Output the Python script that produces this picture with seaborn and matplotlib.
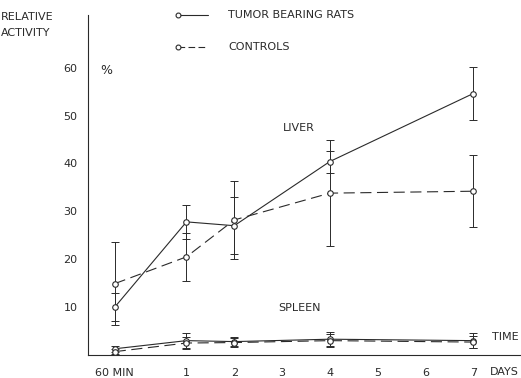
import matplotlib
matplotlib.use("Agg")
import matplotlib.pyplot as plt
import seaborn as sns
import pandas as pd
from matplotlib.lines import Line2D

sns.set_style("white")
plt.rcParams['font.family'] = ['DejaVu Sans']

# ---- data ----
time_pos = [-0.5, 1, 2, 4, 7]
tick_pos = [-0.5, 1, 2, 3, 4, 5, 6, 7]
tick_labels = ['60 MIN', '1', '2', '3', '4', '5', '6', '7']
y_ticks = [10, 20, 30, 40, 50, 60]

liver_tumor = [10.0, 27.8, 27.0, 40.4, 54.6]
liver_tumor_err = [3.0, 3.5, 6.0, 2.3, 5.5]
liver_ctrl = [14.9, 20.5, 28.2, 33.8, 34.2]
liver_ctrl_err = [8.7, 5.0, 8.2, 11.0, 7.5]

spleen_tumor = [1.3, 3.0, 2.8, 3.3, 3.0]
spleen_tumor_err = [0.6, 1.5, 1.0, 1.5, 1.5]
spleen_ctrl = [0.7, 2.5, 2.6, 3.0, 2.7]
spleen_ctrl_err = [0.5, 1.2, 1.0, 1.3, 1.2]

ink = '#2a2a2a'

fig = plt.figure(figsize=(5.21, 3.78), dpi=100)
ax = fig.add_axes([88/521, 23/378, 1 - 88/521, (355-15)/378])

dash = (0, (10, 5))
series = [
    ('tumor', 'liver', liver_tumor, liver_tumor_err, '-'),
    ('ctrl', 'liver', liver_ctrl, liver_ctrl_err, dash),
    ('tumor', 'spleen', spleen_tumor, spleen_tumor_err, '-'),
    ('ctrl', 'spleen', spleen_ctrl, spleen_ctrl_err, dash),
]
for grp, organ, vals, errs, ls in series:
    df = pd.DataFrame({'t': time_pos, 'v': vals})
    sns.lineplot(data=df, x='t', y='v', ax=ax, color=ink, lw=0.8,
                 linestyle=ls, marker='o', markersize=4,
                 markerfacecolor='white', markeredgecolor=ink,
                 markeredgewidth=0.8, legend=False, zorder=3, clip_on=False)
    ax.errorbar(time_pos, vals, yerr=errs, fmt='none', ecolor=ink,
                elinewidth=0.7, capsize=3, capthick=0.7, zorder=2, clip_on=False)

ax.set_xlim(-1.06, 8.0)
ax.set_ylim(0, 71)
ax.set_xlabel('')
ax.set_ylabel('')
for s in ['top', 'right']:
    ax.spines[s].set_visible(False)
for s in ['left', 'bottom']:
    ax.spines[s].set_color(ink)
    ax.spines[s].set_linewidth(0.8)

ax.set_xticks(tick_pos)
ax.set_xticklabels(tick_labels)
ax.set_yticks(y_ticks)
ax.set_yticklabels([str(v) for v in y_ticks])
ax.tick_params(axis='both', direction='inout', length=7, width=0.7,
               color=ink, labelsize=8, labelcolor=ink)
ax.tick_params(axis='x', pad=6)
ax.tick_params(axis='y', pad=4)

# annotations
fig.text(0.002, 0.955, 'RELATIVE', fontsize=8, color=ink, ha='left', va='center')
fig.text(0.002, 0.912, 'ACTIVITY', fontsize=8, color=ink, ha='left', va='center')
fig.text(100/521, 1 - 70/378, '%', fontsize=9, color=ink, ha='left', va='center')
fig.text(283/521, 1 - 128/378, 'LIVER', fontsize=8, color=ink, ha='left', va='center')
fig.text(278/521, 1 - 308/378, 'SPLEEN', fontsize=8, color=ink, ha='left', va='center')
fig.text(492/521, 1 - 337/378, 'TIME', fontsize=8, color=ink, ha='left', va='center')
fig.text(519/521, 1 - 372/378, 'DAYS', fontsize=8, color=ink, ha='right', va='center')

# legend (manual)
for yy, ls, lab in [(15, '-', 'TUMOR BEARING RATS'), (47, (0, (6, 3)), 'CONTROLS')]:
    yf = 1 - yy/378
    fig.add_artist(Line2D([178/521, 208/521], [yf, yf], color=ink, lw=0.8, linestyle=ls))
    fig.add_artist(Line2D([178/521], [yf], marker='o', markersize=3.5,
                          markerfacecolor='white', markeredgecolor=ink, markeredgewidth=0.8))
    fig.text(228/521, yf, lab, fontsize=8, color=ink, ha='left', va='center')

fig.savefig('out.png', dpi=100)
